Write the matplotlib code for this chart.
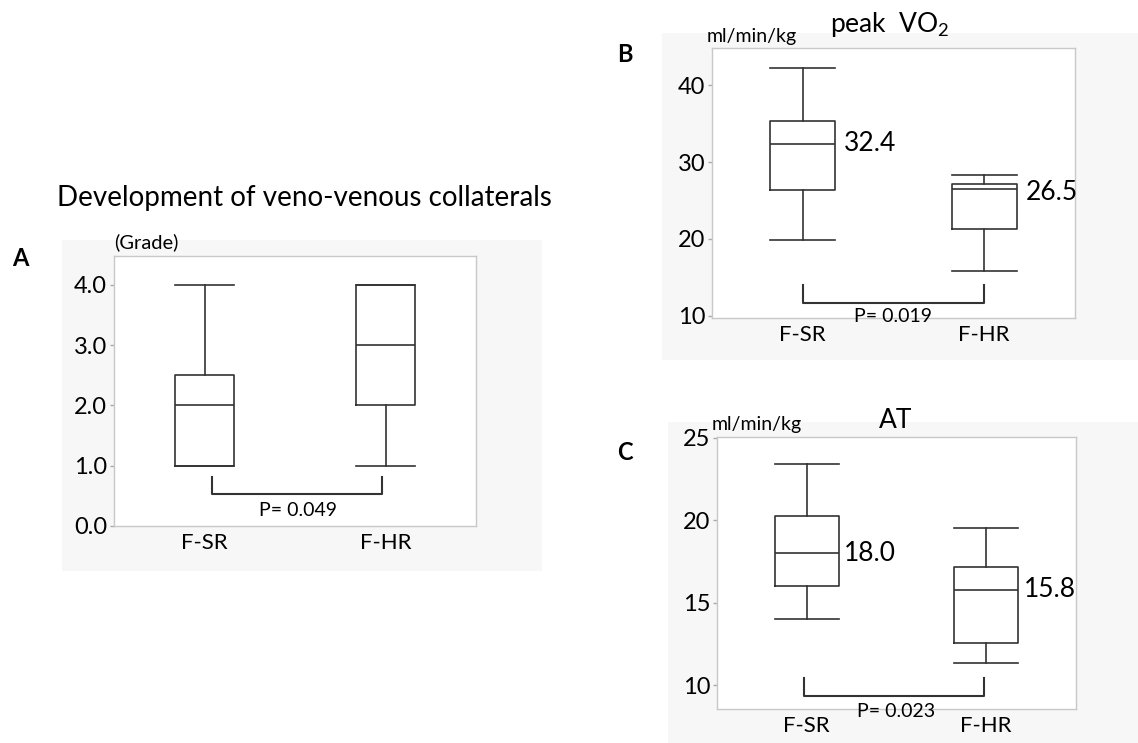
import matplotlib
matplotlib.use("Agg")
import matplotlib.pyplot as plt
from matplotlib.patches import Rectangle

plt.rcParams['font.family'] = ['Lato', 'DejaVu Sans']

W, H = 1138, 743

groups = ['F-SR', 'F-HR']
positions = [1, 2]

# panel A: development of veno-venous collaterals (grade)
a_whislo = [1.0, 1.0]
a_q1 = [1.0, 2.0]
a_med = [2.0, 3.0]
a_q3 = [2.5, 4.0]
a_whishi = [4.0, 4.0]
a_ticks = [0.0, 1.0, 2.0, 3.0, 4.0]

# panel B: peak VO2 (ml/min/kg)
b_whislo = [19.9, 15.8]
b_q1 = [26.3, 21.3]
b_med = [32.4, 26.5]
b_q3 = [35.4, 27.1]
b_whishi = [42.2, 28.3]
b_ticks = [10, 20, 30, 40]

# panel C: AT (ml/min/kg)
c_whislo = [14.0, 11.35]
c_q1 = [16.0, 12.6]
c_med = [18.0, 15.8]
c_q3 = [20.25, 17.2]
c_whishi = [23.45, 19.55]
c_ticks = [10, 15, 20, 25]

p_values = ['P= 0.049', 'P= 0.019', 'P= 0.023']


def px_axes(l, t, r, b):
    return fig.add_axes([l / W, 1 - b / H, (r - l) / W, (b - t) / H])


def gray_bg(l, t, r, b):
    fig.patches.append(Rectangle((l / W, 1 - b / H), (r - l) / W, (b - t) / H,
                                 transform=fig.transFigure, facecolor='#f7f7f7',
                                 edgecolor='none', zorder=-10))


def make_stats(whislo, q1, med, q3, whishi):
    stats = []
    for i in range(len(groups)):
        stats.append({'whislo': whislo[i], 'q1': q1[i], 'med': med[i],
                      'q3': q3[i], 'whishi': whishi[i], 'fliers': []})
    return stats


def draw_panel(ax, stats, width, ylim, ticks, fmt, ysize):
    lc = '#333333'
    ax.bxp(stats, positions=positions, widths=width, capwidths=width,
           showfliers=False, patch_artist=False,
           boxprops=dict(color=lc, linewidth=1.2),
           medianprops=dict(color=lc, linewidth=1.2),
           whiskerprops=dict(color=lc, linewidth=1.2),
           capprops=dict(color=lc, linewidth=1.2))
    ax.set_xlim(0.5, 2.5)
    ax.set_ylim(*ylim)
    ax.set_yticks(ticks)
    ax.set_yticklabels([fmt % t for t in ticks], fontsize=ysize)
    ax.set_xticks(positions)
    ax.set_xticklabels(groups, fontsize=16)
    ax.tick_params(axis='x', length=0, pad=5)
    ax.tick_params(axis='y', length=3, width=1, color='#aaaaaa', pad=2)
    for s in ax.spines.values():
        s.set_color('#c8c8c8')
        s.set_linewidth(1)


def bracket(ax, x0, x1, ytop, ybot, ptext, ptx, pty):
    tr = ax.get_xaxis_transform()
    ax.plot([x0, x0, x1, x1], [ytop, ybot, ybot, ytop], color='#333333',
            linewidth=1.5, transform=tr, clip_on=False)
    ax.text(ptx, pty, ptext, transform=ax.transAxes, ha='center', va='center',
            fontsize=14, clip_on=False)


fig = plt.figure(figsize=(W / 100, H / 100), dpi=100)

# ---- A ----
gray_bg(62, 240, 542, 571)
axA = px_axes(114, 256, 476, 526)
draw_panel(axA, make_stats(a_whislo, a_q1, a_med, a_q3, a_whishi), 0.324,
           (0, 4.48), a_ticks, '%.1f', 17)
bracket(axA, 1.04, 1.98, 0.183, 0.118, p_values[0], 0.508, 0.059)
axA.annotate('(Grade)', xy=(0, 1), xycoords='axes fraction', xytext=(0, 10),
             textcoords='offset points', ha='left', va='center', fontsize=14.5)
axA.annotate('Development of veno-venous collaterals', xy=(0.5, 1),
             xycoords='axes fraction', xytext=(7, 42), textcoords='offset points',
             ha='center', va='center', fontsize=20)
fig.text(20 / W, 1 - 258 / H, 'A', fontsize=17, fontweight='bold',
         ha='center', va='center')

# ---- B ----
gray_bg(662, 33, 1138, 360)
axB = px_axes(712, 48, 1075, 318)
draw_panel(axB, make_stats(b_whislo, b_q1, b_med, b_q3, b_whishi), 0.357,
           (9.7, 44.85), b_ticks, '%d', 17)
for i, p in enumerate(positions):
    axB.text(p + 0.357 / 2 + 0.05, b_med[i] - (0.4 if i else 0), '%.1f' % b_med[i],
             fontsize=19, ha='left', va='center')
bracket(axB, 1.0, 2.0, 0.122, 0.054, p_values[1], 0.5, 0.004)
axB.annotate('ml/min/kg', xy=(0, 1), xycoords='axes fraction', xytext=(-4, 8),
             textcoords='offset points', ha='left', va='center', fontsize=14)
axB.annotate('peak  VO$_{\\mathregular{2}}$', xy=(0.5, 1), xycoords='axes fraction',
             xytext=(-3, 17), textcoords='offset points', ha='center',
             va='center', fontsize=19)
fig.text(625 / W, 1 - 55 / H, 'B', fontsize=17, fontweight='bold',
         ha='center', va='center')

# ---- C ----
gray_bg(668, 422, 1138, 743)
axC = px_axes(717, 437, 1076, 709)
draw_panel(axC, make_stats(c_whislo, c_q1, c_med, c_q3, c_whishi), 0.358,
           (8.57, 25.06), c_ticks, '%d', 17)
for i, p in enumerate(positions):
    axC.text(p + 0.358 / 2 + 0.03, c_med[i], '%.1f' % c_med[i],
             fontsize=19, ha='left', va='center')
bracket(axC, 0.984, 1.99, 0.113, 0.049, p_values[2], 0.5, -0.011)
axC.annotate('ml/min/kg', xy=(0, 1), xycoords='axes fraction', xytext=(-4, 9),
             textcoords='offset points', ha='left', va='center', fontsize=14)
axC.annotate('AT', xy=(0.5, 1), xycoords='axes fraction', xytext=(-1, 12),
             textcoords='offset points', ha='center', va='center', fontsize=19)
fig.text(625 / W, 1 - 453 / H, 'C', fontsize=17, fontweight='bold',
         ha='center', va='center')

fig.savefig('out.png', dpi=100, facecolor='white')
